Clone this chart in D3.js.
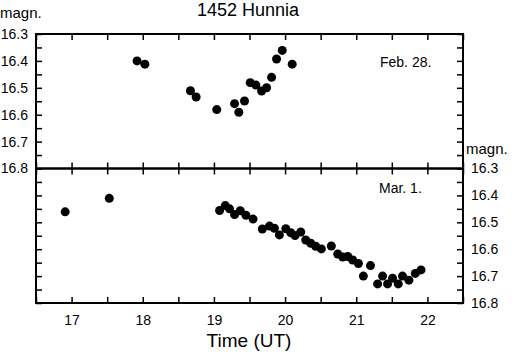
<!DOCTYPE html>
<html>
<head>
<meta charset="utf-8">
<script src="https://cdn.jsdelivr.net/npm/d3@7"></script>
<style>
  body { margin: 0; background: #fff; }
  svg { display: block; font-family: "Liberation Sans", Arial, sans-serif; }
  .tick text { font-size: 14px; fill: #000; }
  .tick line { stroke: #000; stroke-width: 1.5; }
  .domain { display: none; }
</style>
</head>
<body>
<div id="chart"></div>
<script>
// Feb. 28 session (time UT, magnitude)
var febTime = [17.92, 18.03, 18.67, 18.75, 19.04, 19.29, 19.35, 19.43, 19.51, 19.59, 19.67, 19.74, 19.81, 19.88, 19.96, 20.10]
var febMag  = [16.400, 16.412, 16.511, 16.534, 16.581, 16.559, 16.591, 16.549, 16.481, 16.490, 16.512, 16.500, 16.461, 16.393, 16.361, 16.412]

// Mar. 1 session
var marTime = [16.91, 17.53, 19.08, 19.16, 19.22, 19.29, 19.37, 19.45, 19.55, 19.68, 19.78, 19.85, 19.92,
  20.01, 20.08, 20.14, 20.22, 20.29, 20.36, 20.43, 20.51, 20.65, 20.74, 20.81, 20.88, 20.95, 21.03,
  21.10, 21.20, 21.30, 21.37, 21.44, 21.51, 21.59, 21.65, 21.74, 21.83, 21.91]
var marMag  = [16.461, 16.411, 16.456, 16.438, 16.450, 16.471, 16.457, 16.474, 16.488, 16.525, 16.514, 16.522, 16.547,
  16.524, 16.539, 16.549, 16.536, 16.566, 16.578, 16.589, 16.599, 16.588, 16.618, 16.629, 16.627, 16.640, 16.653,
  16.700, 16.661, 16.729, 16.700, 16.729, 16.708, 16.729, 16.700, 16.715, 16.690, 16.677]

var timeTicks = [16.5, 17, 17.5, 18, 18.5, 19, 19.5, 20, 20.5, 21, 21.5, 22, 22.5]
var timeLabels = [17, 18, 19, 20, 21, 22]
var magTicks = [16.3, 16.35, 16.4, 16.45, 16.5, 16.55, 16.6, 16.65, 16.7, 16.75, 16.8]
var magLabels = [16.3, 16.4, 16.5, 16.6, 16.7, 16.8]

var W = 512, H = 352
var frameL = 36, frameR = 463, frameT = 34, frameM = 168.5, frameB = 303

var svg = d3.select('#chart').append('svg').attr('width', W).attr('height', H)

var x = d3.scaleLinear().domain([16.5, 22.5]).range([frameL, frameR])
var yTop = d3.scaleLinear().domain([16.3, 16.8]).range([frameT, frameM])
var yBot = d3.scaleLinear().domain([16.3, 16.8]).range([frameM, frameB])

function isLabel(list) {
  return function(d) {
    return list.some(function(v) { return Math.abs(v - d) < 1e-6 }) ? d3.format('.1f')(d) : ''
  }
}
function xLab(d) { return timeLabels.indexOf(d) >= 0 ? d : '' }
function noLab() { return '' }

function panel(y, leftLabels, rightLabels, bottomLabels) {
  var g = svg.append('g')
  var y0 = y.range()[0], y1 = y.range()[1]

  g.append('g').attr('transform', 'translate(' + frameL + ',0)')
    .call(d3.axisLeft(y).tickValues(magTicks).tickSize(-6).tickPadding(8)
      .tickFormat(leftLabels ? isLabel(magLabels) : noLab))
  g.append('g').attr('transform', 'translate(' + frameR + ',0)')
    .call(d3.axisRight(y).tickValues(magTicks).tickSize(-6).tickPadding(8)
      .tickFormat(rightLabels ? isLabel(magLabels) : noLab))
  g.append('g').attr('transform', 'translate(0,' + y0 + ')')
    .call(d3.axisTop(x).tickValues(timeTicks).tickSize(-6).tickFormat(noLab))
  g.append('g').attr('transform', 'translate(0,' + y1 + ')')
    .call(d3.axisBottom(x).tickValues(timeTicks).tickSize(-6).tickPadding(12)
      .tickFormat(bottomLabels ? xLab : noLab))

  g.append('rect')
    .attr('x', frameL).attr('y', y0)
    .attr('width', frameR - frameL).attr('height', y1 - y0)
    .attr('fill', 'none').attr('stroke', '#000').attr('stroke-width', 2)
  return g
}

var gTop = panel(yTop, true, false, false)
var gBot = panel(yBot, false, true, true)

gTop.selectAll('circle.pt').data(febTime).enter().append('circle')
  .attr('cx', function(d) { return x(d) })
  .attr('cy', function(d, i) { return yTop(febMag[i]) })
  .attr('r', 4.5).attr('fill', '#000')

gBot.selectAll('circle.pt').data(marTime).enter().append('circle')
  .attr('cx', function(d) { return x(d) })
  .attr('cy', function(d, i) { return yBot(marMag[i]) })
  .attr('r', 4.5).attr('fill', '#000')

// texts
svg.append('text').attr('x', 248).attr('y', 16).attr('text-anchor', 'middle')
  .style('font-size', '18px').text('1452 Hunnia')
svg.append('text').attr('x', 0).attr('y', 18).style('font-size', '15px').text('magn.')
svg.append('text').attr('x', 466).attr('y', 154).style('font-size', '15px').text('magn.')
svg.append('text').attr('x', 380).attr('y', 67).style('font-size', '14px').text('Feb. 28.')
svg.append('text').attr('x', 379).attr('y', 193).style('font-size', '14px').text('Mar. 1.')
svg.append('text').attr('x', 249).attr('y', 347).attr('text-anchor', 'middle')
  .style('font-size', '19px').text('Time (UT)')
</script>
</body>
</html>
